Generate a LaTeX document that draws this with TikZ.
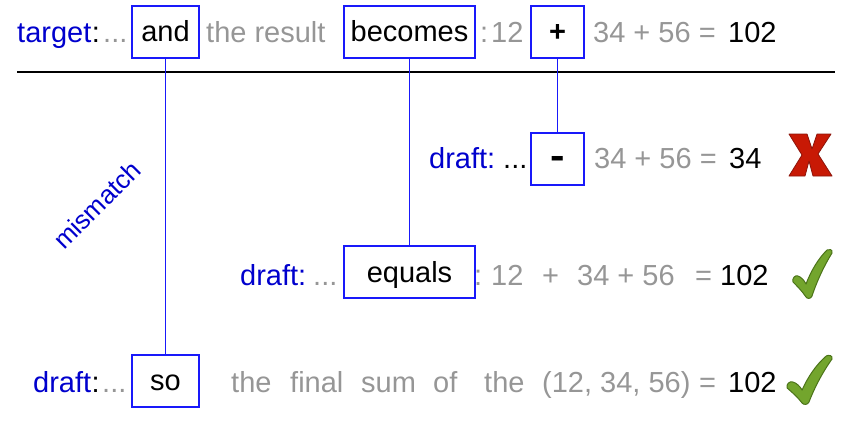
\documentclass[tikz,border=0pt]{standalone}
\usepackage{fontspec}
\setmainfont{Liberation Sans}
\definecolor{tblue}{RGB}{0,0,205}
\definecolor{bblue}{RGB}{25,25,250}
\definecolor{tgray}{RGB}{150,150,150}
\definecolor{xred}{RGB}{200,25,5}
\definecolor{xdark}{RGB}{140,20,10}
\definecolor{cgreen}{RGB}{115,165,45}
\definecolor{cdark}{RGB}{75,115,25}
\begin{document}
\begin{tikzpicture}[x=1pt,y=-1pt,
  every node/.style={inner sep=0pt, font=\fontsize{29}{34}\selectfont},
  txt/.style={anchor=base west},
  lbl/.style={txt, text=tblue},
  gr/.style={txt, text=tgray},
  bk/.style={txt, text=black},
  wbox/.style={anchor=base, draw=bblue, line width=2pt, text height=36pt, text depth=16pt, text=black},
  link/.style={draw=bblue, line width=1.8pt},
  xmark/.style={fill=xred, draw=xdark, line width=0.8pt, line join=round},
  cmark/.style={fill=cgreen, draw=cdark, line width=1pt, line join=round}]
\useasboundingbox (0,0) rectangle (847,442);

% top row
\node[lbl] (t1) at (17,42) {target};
\node[bk] (t2) at (t1.base east) {:};
\node[gr] (t3) at (103,42) {...};
\node[wbox, minimum width=67pt] (and) at (165.5,41.5) {and};
\node[gr] (t4) at (206,42) {the result};
\node[wbox, minimum width=131pt] (becomes) at (409.5,41.5) {becomes};
\node[gr] (t5) at (480,42) {:};
\node[gr] (t6) at (491,42) {12};
\node[wbox, minimum width=53pt] (plus) at (557.5,41.5) {\textbf{+}};
\node[gr] (t7) at (593,42) {34 + 56 =};
\node[bk] (t8) at (728,42) {102};

\draw[line width=1.5pt] (17,72) -- (835,72);

% row 2
\node[lbl] (d1) at (429,168.5) {draft:};
\node[bk] (d2) at (503,168.5) {...};
\node[wbox, minimum width=53pt] (minus) at (557.5,168.5) {\scalebox{1.5}[1.3]{\textbf{-}}};
\node[gr] (d3) at (594,168.5) {34 + 56 =};
\node[bk] (d4) at (729,168.5) {34};
\draw[xmark] (789,134) -- (807,134) -- (812,149) -- (817,134) -- (831,134)
  -- (818,154) -- (832,176) -- (813,176) -- (809,161) -- (805,176)
  -- (789,176) -- (802,155) -- cycle;

% row 3
\node[lbl] (e1) at (240,285) {draft:};
\node[gr] (e2) at (313,285) {...};
\node[wbox, minimum width=131pt] (equals) at (409.5,282) {equals};
\node[gr] (e3) at (474,285) {:};
\node[gr] (e4) at (491,285) {12};
\node[gr] (e5) at (542,285) {+};
\node[gr] (e6) at (577,285) {34 + 56};
\node[gr] (e7) at (695,285) {=};
\node[bk] (e8) at (720,285) {102};
\begin{scope}[shift={(792,249)}]
\draw[cmark] (1,33) .. controls (0,29) and (3,26) .. (6,27)
  .. controls (9,28) and (12,31) .. (14,35)
  .. controls (19,22) and (26,10) .. (35,1)
  .. controls (37,-0.5) and (41,0.5) .. (40,4)
  .. controls (32,17) and (25,32) .. (20,47)
  .. controls (19,50) and (15,50) .. (14,48)
  .. controls (10,42) and (5,37) .. (1,33) -- cycle;
\end{scope}

% row 4
\node[lbl] (f1) at (33,392) {draft};
\node[bk] (f2) at (f1.base east) {:};
\node[gr] (f3) at (102,392) {...};
\node[wbox, minimum width=67pt] (so) at (165.5,390.5) {so};
\node[gr] (w1) at (231,392) {the};
\node[gr] (w2) at (290,392) {final};
\node[gr] (w3) at (361,392) {sum};
\node[gr] (w4) at (433,392) {of};
\node[gr] (w5) at (484,392) {the};
\node[gr] (w6) at (542,392) {(12, 34, 56)};
\node[gr] (w7) at (699,392) {=};
\node[bk] (w8) at (728,392) {102};
\begin{scope}[shift={(786,355)}, xscale=1.15]
\draw[cmark] (1,33) .. controls (0,29) and (3,26) .. (6,27)
  .. controls (9,28) and (12,31) .. (14,35)
  .. controls (19,22) and (26,10) .. (35,1)
  .. controls (37,-0.5) and (41,0.5) .. (40,4)
  .. controls (32,17) and (25,32) .. (20,47)
  .. controls (19,50) and (15,50) .. (14,48)
  .. controls (10,42) and (5,37) .. (1,33) -- cycle;
\end{scope}

% connectors
\draw[link] (and.south) -- (so.north);
\draw[link] (becomes.south) -- (equals.north);
\draw[link] (plus.south) -- (minus.north);

\node[text=tblue, rotate=45, font=\fontsize{26}{30}\selectfont] (mm) at (97,205) {mismatch};
\end{tikzpicture}
\end{document}
